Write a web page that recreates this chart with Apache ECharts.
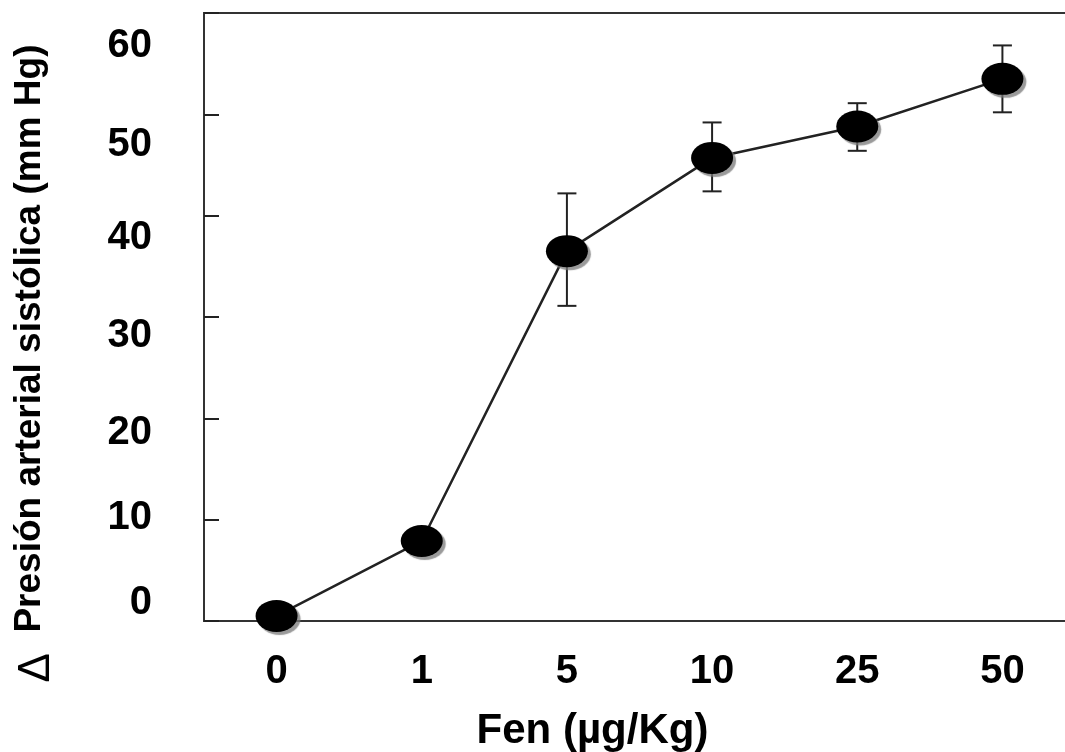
<!DOCTYPE html>
<html>
<head>
<meta charset="utf-8">
<script src="https://cdn.jsdelivr.net/npm/echarts@6/dist/echarts.min.js"></script>
<style>
  html, body { margin: 0; padding: 0; background: #fff; }
  #chart { width: 1065px; height: 752px; }
</style>
</head>
<body>
<div id="chart"></div>
<script>
// dose categories (Fen, ug/Kg)
var doses = ['0', '1', '5', '10', '25', '50'];
// mean change in systolic pressure (mm Hg)
var meanVals = [0.5, 7.9, 36.5, 45.7, 48.8, 53.5];
// error bar ends
var errLow = [null, null, 31.1, 42.4, 46.4, 50.2];
var errHigh = [null, null, 42.2, 49.2, 51.1, 56.8];
// y tick labels
var yTicks = [0, 10, 20, 30, 40, 50, 60];

document.addEventListener('DOMContentLoaded', function () {
    var chartDom = document.getElementById('chart');
    var myChart = echarts.init(chartDom, null, { renderer: 'canvas' });
    var option;

    // the original's y labels sit a little off their ticks
    var labelShift = { 0: -18, 10: -2, 20: 15, 30: 19, 40: 22, 50: 31, 60: 33 };
    var rich = {};
    yTicks.forEach(function (t) {
        var s = labelShift[t];
        rich['t' + t] = {
            fontFamily: 'Liberation Sans, Arial, sans-serif',
            fontWeight: 'bold',
            fontSize: 40,
            color: '#000',
            padding: s >= 0 ? [2 * s, 0, 0, 0] : [0, 0, -2 * s, 0]
        };
    });

    var errData = [];
    for (var i = 0; i < doses.length; i++) {
        if (errLow[i] != null) errData.push([i, errLow[i], errHigh[i]]);
    }

    option = {
        backgroundColor: '#fff',
        animation: false,
        grid: {
            left: 204,
            top: 13,
            width: 871,
            bottom: 131,
            outerBoundsMode: 'none',
            containLabel: false,
            show: true,
            borderColor: '#333',
            borderWidth: 2
        },
        xAxis: {
            type: 'category',
            data: doses,
            boundaryGap: true,
            name: 'Fen (µg/Kg)',
            nameLocation: 'middle',
            nameGap: 89,
            nameTextStyle: {
                fontFamily: 'Liberation Sans, Arial, sans-serif',
                fontWeight: 'bold',
                fontSize: 42,
                color: '#000',
                padding: [0, 94, 0, 0]
            },
            axisLine: { lineStyle: { color: '#333', width: 2 } },
            axisTick: {
                inside: true,
                length: 16,
                alignWithLabel: true,
                lineStyle: { color: '#222', width: 2 }
            },
            axisLabel: {
                margin: 31,
                fontFamily: 'Liberation Sans, Arial, sans-serif',
                fontWeight: 'bold',
                fontSize: 40,
                color: '#000'
            },
            splitLine: { show: false }
        },
        yAxis: {
            type: 'value',
            min: 0,
            max: 60,
            interval: 10,
            name: '{d|Δ}  Presión arterial sistólica (mm Hg)',
            nameLocation: 'middle',
            nameRotate: 90,
            nameGap: 145,
            nameTextStyle: {
                fontFamily: 'Liberation Sans, Arial, sans-serif',
                fontWeight: 'bold',
                fontSize: 37,
                color: '#000',
                padding: [0, 93, 0, 0],
                rich: {
                    d: {
                        fontFamily: 'Liberation Sans, Arial, sans-serif',
                        fontWeight: 'normal',
                        fontSize: 44,
                        color: '#000',
                        padding: [14, 0, 0, 0]
                    }
                }
            },
            axisLine: { show: true, lineStyle: { color: '#333', width: 2 } },
            axisTick: {
                show: true,
                inside: true,
                length: 15,
                lineStyle: { color: '#222', width: 2 }
            },
            axisLabel: {
                margin: 52,
                formatter: function (v) { return '{t' + v + '|' + v + '}'; },
                rich: rich
            },
            splitLine: { show: false }
        },
        series: [
            {
                name: 'error',
                type: 'custom',
                z: 1,
                data: errData,
                renderItem: function (params, api) {
                    var x = api.value(0);
                    var lo = api.coord([x, api.value(1)]);
                    var hi = api.coord([x, api.value(2)]);
                    var w = 9.5;
                    var st = { stroke: '#222', lineWidth: 2 };
                    return {
                        type: 'group',
                        children: [
                            { type: 'line', shape: { x1: hi[0], y1: hi[1], x2: lo[0], y2: lo[1] }, style: st },
                            { type: 'line', shape: { x1: hi[0] - w, y1: hi[1], x2: hi[0] + w, y2: hi[1] }, style: st },
                            { type: 'line', shape: { x1: lo[0] - w, y1: lo[1], x2: lo[0] + w, y2: lo[1] }, style: st }
                        ]
                    };
                }
            },
            {
                name: 'mean',
                type: 'line',
                z: 3,
                data: meanVals,
                symbol: 'circle',
                symbolSize: [42, 32],
                showAllSymbol: true,
                lineStyle: { color: '#222', width: 2.5 },
                itemStyle: {
                    color: '#000',
                    borderWidth: 0,
                    shadowColor: 'rgba(120,120,120,0.75)',
                    shadowBlur: 1,
                    shadowOffsetX: 3,
                    shadowOffsetY: 3
                },
                emphasis: { disabled: true }
            }
        ]
    };

    option && myChart.setOption(option);
});
</script>
</body>
</html>
